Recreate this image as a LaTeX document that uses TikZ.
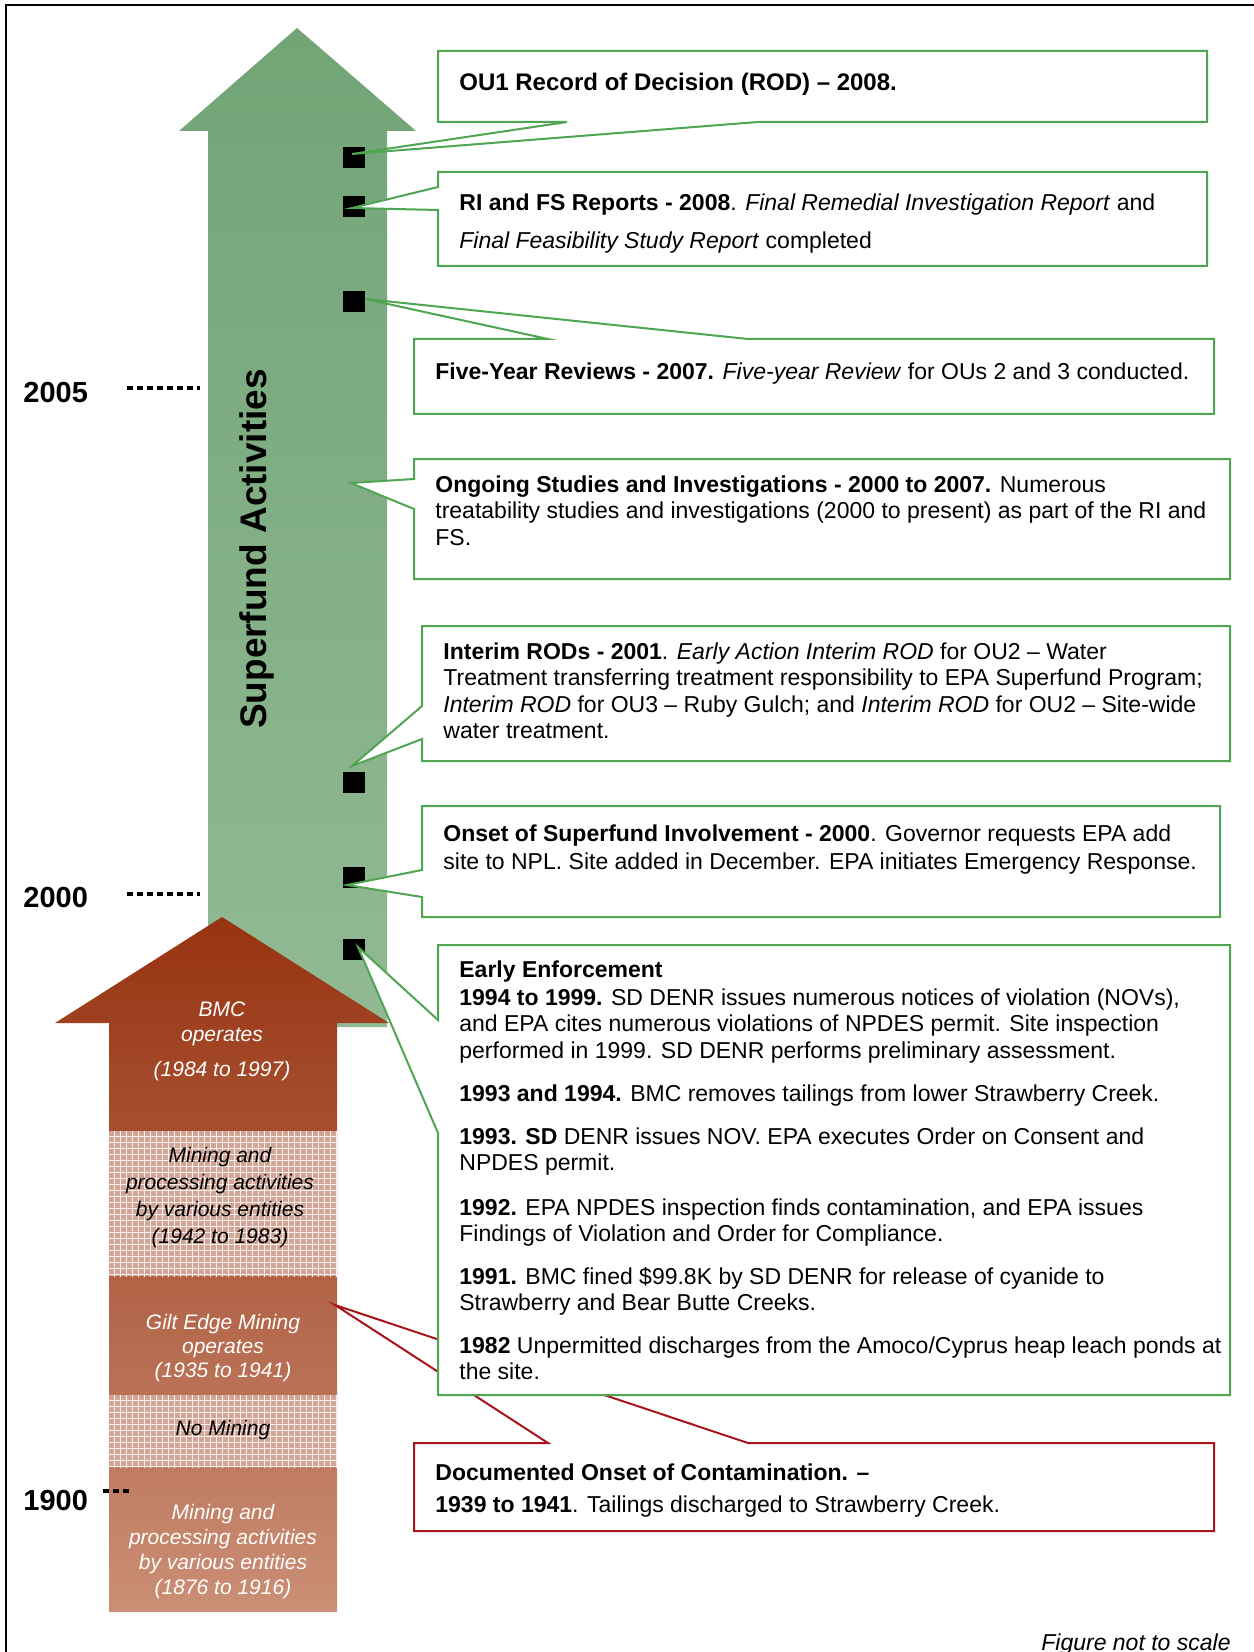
\documentclass[tikz,border=0pt]{standalone}
\usepackage{fontspec}
\setmainfont{Liberation Sans}
\usetikzlibrary{patterns}
\definecolor{gline}{HTML}{4FA552}
\definecolor{gtop}{HTML}{72A476}
\definecolor{gbot}{HTML}{91BA94}
\definecolor{btop}{HTML}{973311}
\definecolor{bbot}{HTML}{CA8F76}
\definecolor{pinkpat}{HTML}{D3A597}
\definecolor{rline}{HTML}{A8141B}
\begin{document}
\begin{tikzpicture}[x=0.5pt,y=-0.5pt,
  callout/.style={draw=gline, fill=white, line width=1pt, line join=miter},
  redcallout/.style={draw=rline, fill=white, line width=1pt},
  sq/.style={fill=black, inner sep=0pt, minimum width=11pt, minimum height=10.5pt},
  txt/.style={anchor=base west, align=left, inner sep=0pt, font=\fontsize{11.5}{13.25}\selectfont},
  arrw/.style={anchor=base, align=center, inner sep=0pt, text=white, font=\fontsize{10.5}{12.5}\selectfont\itshape},
  arrb/.style={arrw, text=black},
  year/.style={anchor=base west, inner sep=0pt, font=\fontsize{14.5}{16}\selectfont\bfseries},
  dots/.style={line width=2pt, dash pattern=on 3pt off 2pt}
]
\useasboundingbox (0,0) rectangle (1253,1652);
% frame
\draw[line width=1pt] (6,1660) -- (6,5) -- (1260,5);

% green arrow
\shade[top color=gtop, bottom color=gbot]
  (297,28) -- (416,131) -- (387,131) -- (387,1027) -- (208,1027) -- (208,131) -- (179,131) -- cycle;
\node[rotate=90, inner sep=0pt, font=\fontsize{18.5}{20}\selectfont\bfseries] (sa) at (257,549) {Superfund Activities};

% black squares
\node[sq] (s1) at (354,157.5) {};
\node[sq] (s2) at (354,206.5) {};
\node[sq] (s3) at (354,302) {};
\node[sq] (s4) at (354,782) {};
\node[sq] (s5) at (354,877.5) {};
\node[sq] (s6) at (354,949.5) {};

% brown arrow
\shade[top color=btop, bottom color=bbot]
  (222,917) -- (389,1023) -- (337,1023) -- (337,1612) -- (109,1612) -- (109,1023) -- (55,1023) -- cycle;
\fill[pinkpat] (109,1131) rectangle (337,1276);
\fill[pattern=grid, pattern color=white!85!pinkpat] (109,1131) rectangle (337,1276);
\fill[pinkpat] (109,1395) rectangle (337,1467);
\fill[pattern=grid, pattern color=white!85!pinkpat] (109,1395) rectangle (337,1467);

% multi-line nodes: anchor=base sits on the last line
\node[arrw] (bmc) at (222,1041) {BMC\\operates};
\node[arrw] (bmcy) at (222,1076) {(1984 to 1997)};
\node[arrb, font=\fontsize{10.5}{13.5}\selectfont\itshape] (m42) at (220,1243) {Mining and\\processing activities\\by various entities\\(1942 to 1983)};
\node[arrw, font=\fontsize{10.5}{12}\selectfont\itshape] (gilt) at (223,1377) {Gilt Edge Mining\\operates\\(1935 to 1941)};
\node[arrb] (nomin) at (223,1435) {No Mining};
\node[arrw, font=\fontsize{10.5}{12.35}\selectfont\itshape] (m76) at (223,1594) {Mining and\\processing activities\\by various entities\\(1876 to 1916)};

% year labels
\node[year] (y05) at (23,403) {2005};
\node[year] (y00) at (23,907) {2000};
\node[year] (y19) at (23,1510) {1900};
\coordinate (d05a) at (127,388); \coordinate (d05b) at (200,388);
\coordinate (d00a) at (127,894); \coordinate (d00b) at (200,894);
\coordinate (d19a) at (103,1491); \coordinate (d19b) at (130,1491);
\draw[dots] (d05a) -- (d05b);
\draw[dots] (d00a) -- (d00b);
\draw[dots] (d19a) -- (d19b);

% tips
\coordinate (t1) at (352,154);
\coordinate (t2) at (352,208);
\coordinate (t3) at (365,299);
\coordinate (t4) at (351,483);
\coordinate (t5) at (352,766);
\coordinate (t6) at (347,885);
\coordinate (t7) at (358,947);
\coordinate (t8) at (335,1305);

% red callout (behind Early Enforcement)
\draw[redcallout] (414,1443) -- (548,1443) -- (t8) -- (748,1443) -- (1214,1443) -- (1214,1531) -- (414,1531) -- cycle;

% green callouts
\draw[callout] (438,51) -- (1207,51) -- (1207,122) -- (758,122) -- (t1) -- (567,122) -- (438,122) -- cycle;
\draw[callout] (438,172) -- (1207,172) -- (1207,266) -- (438,266) -- (438,210) -- (t2) -- (438,187) -- cycle;
\draw[callout] (414,339) -- (548,339) -- (t3) -- (748,339) -- (1214,339) -- (1214,414) -- (414,414) -- cycle;
\draw[callout] (414,459) -- (1230,459) -- (1230,579) -- (414,579) -- (414,509) -- (t4) -- (414,479) -- cycle;
\draw[callout] (422,626) -- (1230,626) -- (1230,761) -- (422,761) -- (422,739) -- (t5) -- (422,706) -- cycle;
\draw[callout] (422,806) -- (1220,806) -- (1220,917) -- (422,917) -- (422,897) -- (t6) -- (422,870) -- cycle;
\draw[callout] (438,945) -- (1230,945) -- (1230,1395) -- (438,1395) -- (438,1133) -- (t7) -- (438,1020) -- cycle;

% texts
\node[txt, font=\fontsize{12}{14}\selectfont] (ou1) at (459,91) {\textbf{OU1 Record of Decision (ROD) – 2008.}};
\node[txt, font=\fontsize{11.5}{19}\selectfont] (ri) at (459,249) {\textbf{RI and FS Reports - 2008}. \textit{Final Remedial Investigation Report} and\\\textit{Final Feasibility Study Report} completed};
\node[txt] (five) at (435,380) {\textbf{Five-Year Reviews - 2007.} \textit{Five-year Review} for OUs 2 and 3 conducted.};
\node[txt] (ong) at (435,545) {\textbf{Ongoing Studies and Investigations - 2000 to 2007.} Numerous\\treatability studies and investigations (2000 to present) as part of the RI and\\FS.};
\node[txt] (int) at (443,738.5) {\textbf{Interim RODs - 2001}. \textit{Early Action Interim ROD} for OU2 – Water\\Treatment transferring treatment responsibility to EPA Superfund Program;\\\textit{Interim ROD} for OU3 – Ruby Gulch; and \textit{Interim ROD} for OU2 – Site-wide\\water treatment.};
\node[txt, font=\fontsize{11.5}{14}\selectfont] (ons) at (443,869) {\textbf{Onset of Superfund Involvement - 2000}. Governor requests EPA add\\site to NPL. Site added in December. EPA initiates Emergency Response.};
\node[txt] (ee0) at (459,977) {\textbf{Early Enforcement}};
\node[txt] (ee1) at (459,1058) {\textbf{1994 to 1999.} SD DENR issues numerous notices of violation (NOVs),\\and EPA cites numerous violations of NPDES permit. Site inspection\\performed in 1999. SD DENR performs preliminary assessment.};
\node[txt] (ee2) at (459,1101) {\textbf{1993 and 1994.} BMC removes tailings from lower Strawberry Creek.};
\node[txt] (ee3) at (459,1170.5) {\textbf{1993. SD} DENR issues NOV. EPA executes Order on Consent and\\NPDES permit.};
\node[txt] (ee4) at (459,1241.5) {\textbf{1992.} EPA NPDES inspection finds contamination, and EPA issues\\Findings of Violation and Order for Compliance.};
\node[txt] (ee5) at (459,1310.5) {\textbf{1991.} BMC fined \$99.8K by SD DENR for release of cyanide to\\Strawberry and Bear Butte Creeks.};
\node[txt] (ee6) at (459,1379.5) {\textbf{1982} Unpermitted discharges from the Amoco/Cyprus heap leach ponds at\\the site.};
\node[txt, font=\fontsize{11.5}{16}\selectfont] (doc) at (435,1512) {\textbf{Documented Onset of Contamination. –}\\\textbf{1939 to 1941}. Tailings discharged to Strawberry Creek.};
\node[anchor=base east, inner sep=0pt, font=\fontsize{11.5}{13}\selectfont\itshape] (fig) at (1231,1650) {Figure not to scale};
\end{tikzpicture}
\end{document}
